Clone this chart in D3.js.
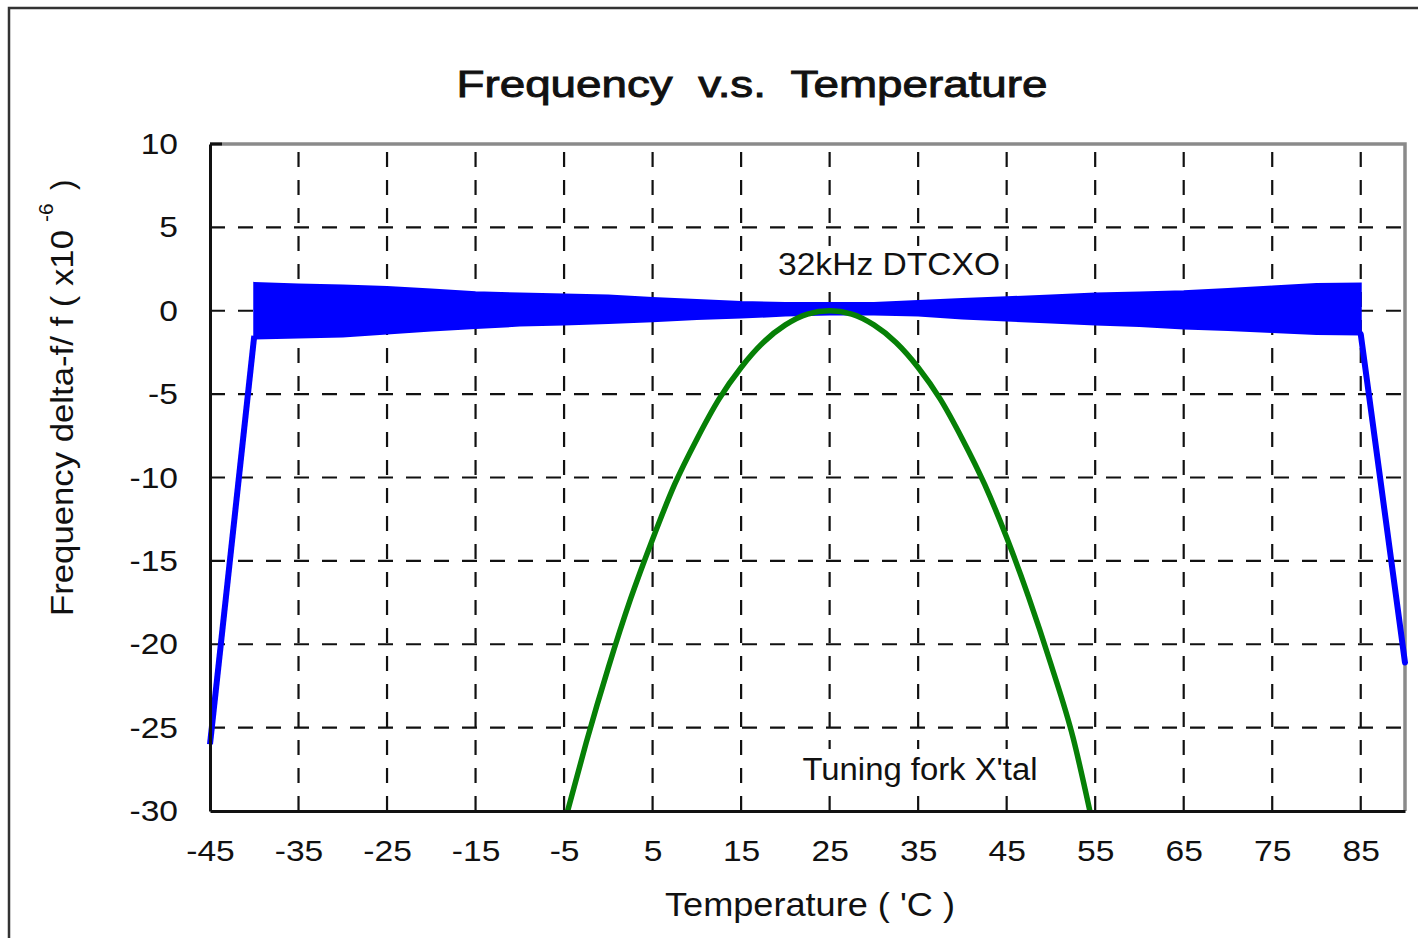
<!DOCTYPE html>
<html><head><meta charset="utf-8">
<script src="https://cdn.jsdelivr.net/npm/d3@7"></script>
<style>
html,body{margin:0;padding:0;background:#fff;}
svg{display:block;font-family:"Liberation Sans",Arial,sans-serif;}
</style></head>
<body>
<svg id="chart" width="1418" height="938"></svg>
<script>
// ---- data ----
const title = "Frequency  v.s.  Temperature";
const xLabel = "Temperature ( 'C )";
const yLabelMain = "Frequency delta-f/ f ( x10";
const yLabelSup = "-6";
const yLabelEnd = ")";
const xTicks = [-45, -35, -25, -15, -5, 5, 15, 25, 35, 45, 55, 65, 75, 85];
const yTicks = [10, 5, 0, -5, -10, -15, -20, -25, -30];
// DTCXO noisy band envelope (temperature, upper, lower)
const bandTemp  = [-40,-35,-30,-25,-20,-15,-10,-5,0,5,10,15,20,25,30,35,40,45,50,55,60,65,70,75,80,85];
const bandUpper = [1.67,1.57,1.51,1.42,1.27,1.11,1.03,0.97,0.91,0.77,0.64,0.52,0.47,0.46,0.47,0.58,0.70,0.81,0.91,1.03,1.09,1.17,1.31,1.45,1.60,1.63];
const bandLower = [-1.67,-1.61,-1.55,-1.37,-1.19,-1.04,-0.89,-0.83,-0.74,-0.63,-0.50,-0.41,-0.29,-0.23,-0.23,-0.29,-0.47,-0.59,-0.71,-0.83,-0.92,-1.07,-1.16,-1.28,-1.40,-1.43];
// DTCXO out-of-range slopes
const dtcxoLeftTemp = [-45, -40];
const dtcxoLeftVal  = [-26.0, -1.5];
const dtcxoRightTemp = [85, 90];
const dtcxoRightVal  = [-1.4, -21.1];
// Tuning fork crystal
const forkTemp = [-4.6,-2.5,0,2.5,5,7.5,10,12.5,15,17.5,20,22.5,25,27.5,30,32.5,35,37.5,40,42.5,45,47.5,50,52.5,54.4];
const forkVal  = [-30,-25.9,-21.4,-17.3,-13.7,-10.4,-7.7,-5.3,-3.4,-1.9,-0.85,-0.2,0,-0.2,-0.85,-1.9,-3.4,-5.3,-7.7,-10.4,-13.6,-17.2,-21.2,-25.6,-30];
const label1 = "32kHz DTCXO";
const label2 = "Tuning fork X'tal";

// ---- layout ----
const svg = d3.select("#chart");
const L = 210, R = 1405, T = 144, B = 811;
const x = d3.scaleLinear().domain([-45, 90]).range([L, R]);
const y = d3.scaleLinear().domain([-30, 10]).range([B, T]);

// outer frame
svg.append("rect").attr("x", 9).attr("y", 8).attr("width", 1430).attr("height", 960)
  .attr("fill", "none").attr("stroke", "#333").attr("stroke-width", 2.5);

// grid
const g = svg.append("g");
g.selectAll(".vg").data(d3.range(-35, 90, 10)).join("line")
  .attr("x1", d => x(d)).attr("x2", d => x(d)).attr("y1", B).attr("y2", T)
  .attr("stroke", "#111").attr("stroke-width", 2.2).attr("stroke-dasharray", "15,13");
g.selectAll(".hg").data(d3.range(5, -30, -5)).join("line")
  .attr("x1", L).attr("x2", R).attr("y1", d => y(d)).attr("y2", d => y(d))
  .attr("stroke", "#111").attr("stroke-width", 2.2).attr("stroke-dasharray", "15,13");

// top/right gray border
svg.append("path").attr("d", `M${L},${T}H${R}V${B}`).attr("fill", "none")
  .attr("stroke", "#8a8a8a").attr("stroke-width", 3.5);

// label boxes (white) hiding grid behind annotations
function labelBox(cx, cy, w, h) {
  svg.append("rect").attr("x", cx - w / 2).attr("y", cy - h / 2).attr("width", w).attr("height", h).attr("fill", "#fff");
}
labelBox(889, 264, 232, 36);
labelBox(920, 768, 246, 38);

// data
const band = bandTemp.map((t, i) => ({t, u: bandUpper[i], l: bandLower[i]}));
svg.append("path").datum(band)
  .attr("d", d3.area().x(d => x(d.t)).y0(d => y(d.l)).y1(d => y(d.u)))
  .attr("fill", "#0000ff").attr("stroke", "#0000ff").attr("stroke-width", 2);
const line = d3.line().x(d => x(d[0])).y(d => y(d[1]));
svg.append("path").datum(dtcxoLeftTemp.map((t, i) => [t, dtcxoLeftVal[i]]))
  .attr("d", line).attr("fill", "none").attr("stroke", "#0000ff").attr("stroke-width", 6);
svg.append("path").datum(dtcxoRightTemp.map((t, i) => [t, dtcxoRightVal[i]]))
  .attr("d", line).attr("fill", "none").attr("stroke", "#0000ff").attr("stroke-width", 6).attr("stroke-linecap", "round");
svg.append("path").datum(forkTemp.map((t, i) => [t, forkVal[i]]))
  .attr("d", d3.line().x(d => x(d[0])).y(d => y(d[1])).curve(d3.curveMonotoneX))
  .attr("fill", "none").attr("stroke", "#068006").attr("stroke-width", 5.5);

// axes (left/bottom black)
const fmt = d => String(d);
const stretch = 1.12;
const xAxis = d3.axisBottom(x).tickValues(xTicks).tickSize(0).tickPadding(29).tickFormat(fmt);
const yAxis = d3.axisLeft(y).tickValues(yTicks).tickSize(0).tickPadding(32 / stretch).tickFormat(fmt);
const gx = svg.append("g").attr("transform", `translate(0,${B})`).call(xAxis);
const gy = svg.append("g").attr("transform", `translate(${L},0)`).call(yAxis);
[gx, gy].forEach(a => {
  a.select(".domain").attr("stroke", "#111").attr("stroke-width", 3);
  a.selectAll("text").attr("font-size", 30).attr("fill", "#111")
    .attr("font-family", "Liberation Sans, Arial, sans-serif")
    .attr("transform", `scale(${stretch},1)`);
});
gx.selectAll("text").attr("dy", "0.71em");
svg.append("line").attr("x1", L).attr("x2", L + 12).attr("y1", T).attr("y2", T)
  .attr("stroke", "#111").attr("stroke-width", 3);

// texts
svg.append("text").attr("x", 752).attr("y", 97).attr("text-anchor", "middle")
  .attr("font-size", 37).attr("fill", "#111").attr("stroke", "#111").attr("stroke-width", 0.9)
  .style("white-space", "pre").attr("textLength", 591).attr("lengthAdjust", "spacingAndGlyphs")
  .text(title);
svg.append("text").attr("x", 810).attr("y", 916).attr("text-anchor", "middle")
  .attr("font-size", 33).attr("fill", "#111")
  .attr("textLength", 290).attr("lengthAdjust", "spacingAndGlyphs").text(xLabel);
const yl = svg.append("g").attr("transform", "translate(73,616) rotate(-90)")
  .attr("fill", "#111");
yl.append("text").attr("font-size", 31).attr("textLength", 386).attr("lengthAdjust", "spacingAndGlyphs").text(yLabelMain);
yl.append("text").attr("x", 394).attr("y", -20).attr("font-size", 21).text(yLabelSup);
yl.append("text").attr("x", 426).attr("font-size", 31).text(yLabelEnd);
svg.append("text").attr("x", 889).attr("y", 275).attr("text-anchor", "middle")
  .attr("font-size", 31).attr("fill", "#111")
  .attr("textLength", 222).attr("lengthAdjust", "spacingAndGlyphs").text(label1);
svg.append("text").attr("x", 920).attr("y", 780).attr("text-anchor", "middle")
  .attr("font-size", 31).attr("fill", "#111")
  .attr("textLength", 235).attr("lengthAdjust", "spacingAndGlyphs").text(label2);
</script>
</body></html>
